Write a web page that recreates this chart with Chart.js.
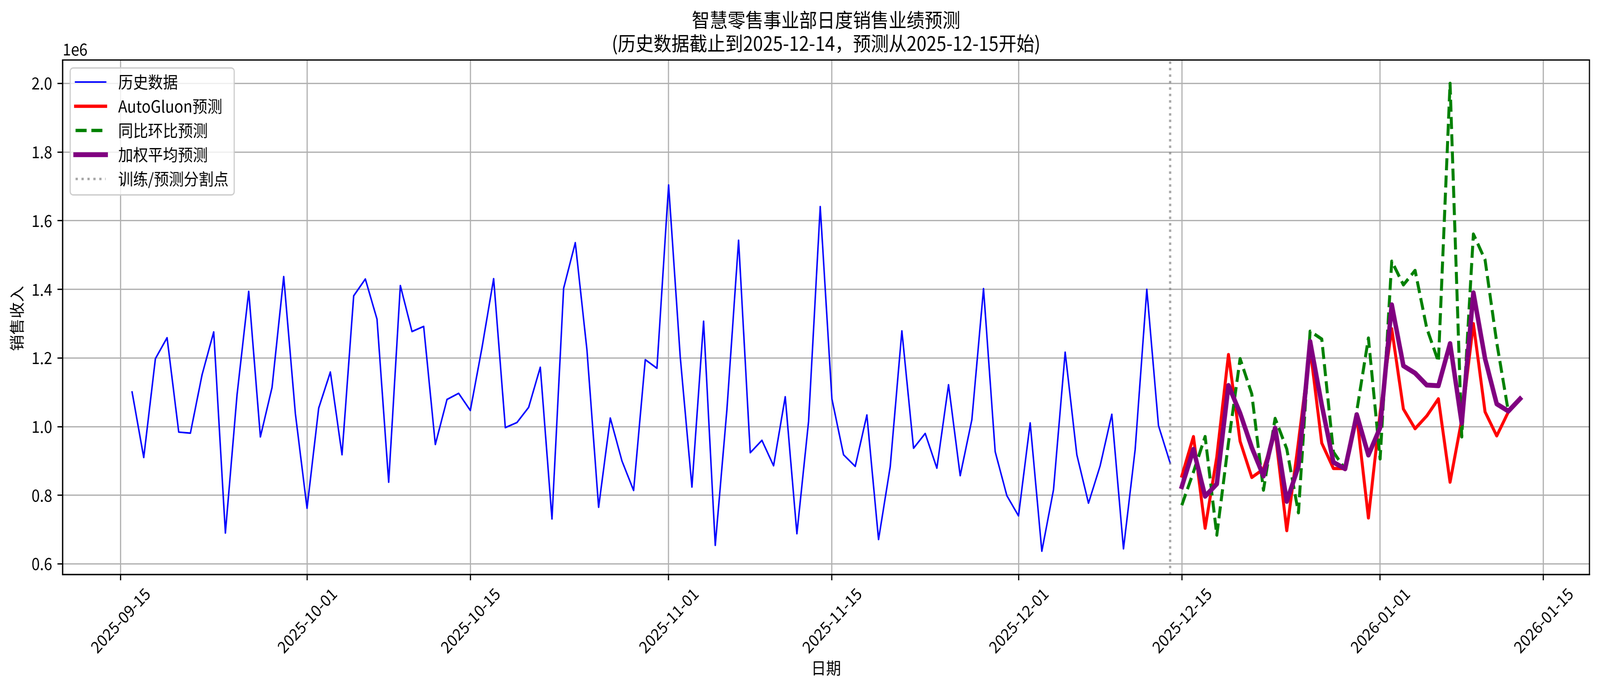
<!DOCTYPE html>
<html>
<head>
<meta charset="utf-8">
<script src="https://cdn.jsdelivr.net/npm/chart.js@4.4.0/dist/chart.umd.min.js"></script>
<style>
html,body{margin:0;padding:0;background:#fff;overflow:hidden;}
canvas{display:block;}
</style>
</head>
<body>
<canvas id="c" width="4468" height="1769"></canvas>
<script>
// ---------------- DATA ----------------
const titleLines = ['智慧零售事业部日度销售业绩预测', '(历史数据截止到2025-12-14，预测从2025-12-15开始)'];
const xLabel = '日期';
const yLabel = '销售收入';
const seriesNames = ['历史数据', 'AutoGluon预测', '同比环比预测', '加权平均预测', '训练/预测分割点'];

const historyStart = '2025-09-16';
const historyValues = [
  1101000, 910000, 1198000, 1259000, 984000, 981000, 1151000, 1276000, 690000, 1093000,
  1394000, 970000, 1114000, 1437000, 1038000, 762000, 1054000, 1159000, 918000, 1381000,
  1430000, 1313000, 838000, 1411000, 1277000, 1292000, 948000, 1079000, 1097000, 1047000,
  1230000, 1431000, 997000, 1012000, 1056000, 1173000, 731000, 1403000, 1536000, 1223000,
  765000, 1025000, 900000, 814000, 1195000, 1170000, 1704000, 1202000, 824000, 1307000,
  654000, 1050000, 1543000, 924000, 960000, 886000, 1087000, 688000, 1015000, 1641000,
  1081000, 918000, 884000, 1034000, 671000, 883000, 1279000, 937000, 980000, 879000,
  1122000, 857000, 1020000, 1402000, 927000, 799000, 740000, 1011000, 637000, 816000,
  1217000, 918000, 777000, 886000, 1036000, 644000, 933000, 1400000, 1003000, 894000
];

const forecastStart = '2025-12-15';
const autogluonValues = [
  856000, 971000, 704000, 912000, 1210000, 957000, 852000, 876000, 985000, 697000,
  955000, 1228000, 952000, 878000, 878000, 1030000, 734000, 1040000, 1285000, 1051000,
  994000, 1031000, 1081000, 838000, 1020000, 1300000, 1043000, 973000, 1043000, 1080000
];
const yoyMomValues = [
  771000, 868000, 971000, 684000, 953000, 1198000, 1095000, 815000, 1024000, 935000,
  749000, 1278000, 1255000, 926000, 876000, 1045000, 1258000, 906000, 1482000, 1413000,
  1455000, 1287000, 1189000, 2000000, 970000, 1561000, 1486000, 1245000, 1043000, 1080000
];
const weightedValues = [
  825000, 934000, 797000, 833000, 1120000, 1039000, 939000, 856000, 996000, 782000,
  884000, 1248000, 1063000, 896000, 877000, 1035000, 917000, 997000, 1355000, 1177000,
  1156000, 1121000, 1119000, 1242000, 1010000, 1390000, 1198000, 1066000, 1045000, 1081000
];

const splitDate = '2025-12-14';
const xTickDates = ['2025-09-15', '2025-10-01', '2025-10-15', '2025-11-01', '2025-11-15',
                    '2025-12-01', '2025-12-15', '2026-01-01', '2026-01-15'];
const yTickValues = [600000, 800000, 1000000, 1200000, 1400000, 1600000, 1800000, 2000000];
const yOffsetText = '1e6';

// ---------------- PAGE FIT (stretch the 4468x1769 drawing to the real viewport) ----------------
const W = 4468, H = 1769;
(function fit() {
  const vw = window.innerWidth || W, vh = window.innerHeight || H;
  const cv = document.getElementById('c');
  cv.style.width = vw + 'px';
  cv.style.height = vh + 'px';
})();

// ---------------- HELPERS ----------------
const FONT = "'Noto Sans CJK SC', 'Noto Sans', sans-serif";
const FS = 41.7;
const dayNum = s => Date.UTC(+s.slice(0, 4), +s.slice(5, 7) - 1, +s.slice(8, 10)) / 86400000;
const toPoints = (start, vals) => vals.map((v, i) => ({ x: dayNum(start) + i, y: v }));

const histPts = toPoints(historyStart, historyValues);
const agPts = toPoints(forecastStart, autogluonValues);
const yoyPts = toPoints(forecastStart, yoyMomValues);
const wPts = toPoints(forecastStart, weightedValues);

// matplotlib-style 5% margins
const allX = histPts.concat(agPts).map(p => p.x);
const allY = historyValues.concat(autogluonValues, yoyMomValues, weightedValues);
const xLo = Math.min(...allX), xHi = Math.max(...allX);
const yLo = Math.min(...allY), yHi = Math.max(...allY);
const xMin = xLo - 0.05 * (xHi - xLo), xMax = xHi + 0.05 * (xHi - xLo);
const yMin = yLo - 0.05 * (yHi - yLo), yMax = yHi + 0.05 * (yHi - yLo);

const COLORS = { hist: '#0000ff', ag: '#ff0000', yoy: '#008000', w: '#800080', split: 'rgba(128,128,128,0.7)' };
const LW = { hist: 4.17, ag: 8.33, yoy: 8.33, w: 12.5, split: 6.25 };
const DASH_YOY = [30.8, 13.3];
const DASH_SPLIT = [6.25, 10.3];

// ---------------- PLUGIN (matplotlib-like decorations) ----------------
const mplPlugin = {
  id: 'mpl',
  afterDraw(chart) {
    const ctx = chart.ctx, a = chart.chartArea;
    const xs = chart.scales.x;
    const cx = (a.left + a.right) / 2, cy = (a.top + a.bottom) / 2;
    ctx.save();
    // spines
    ctx.strokeStyle = '#000';
    ctx.lineWidth = 3.3;
    ctx.strokeRect(a.left, a.top, a.right - a.left, a.bottom - a.top);

    ctx.fillStyle = '#000';
    // x tick labels, rotated 45deg, centered on tick
    ctx.font = `${FS}px ${FONT}`;
    ctx.textAlign = 'center';
    ctx.textBaseline = 'middle';
    xTickDates.forEach(d => {
      const px = xs.getPixelForValue(dayNum(d));
      ctx.save();
      ctx.translate(px, a.bottom + 117);
      ctx.rotate(-Math.PI / 4);
      ctx.fillText(d, 0, 0);
      ctx.restore();
    });
    // x label
    ctx.fillText(xLabel, cx, a.bottom + 239);
    // y label
    ctx.save();
    ctx.translate(47.5, cy + 3);
    ctx.rotate(-Math.PI / 2);
    ctx.fillText(yLabel, 0, 0);
    ctx.restore();
    // offset text
    ctx.textAlign = 'left';
    ctx.textBaseline = 'alphabetic';
    ctx.fillText(yOffsetText, a.left, a.top - 12);
    // title
    ctx.font = `50px ${FONT}`;
    ctx.textAlign = 'center';
    ctx.textBaseline = 'middle';
    ctx.fillText(titleLines[0], cx, 50.5);
    ctx.fillText(titleLines[1], cx, 111);

    // legend
    const bx = 196, by = 174, bw = 458, bh = 325, r = 8.3;
    ctx.beginPath();
    ctx.moveTo(bx + r, by);
    ctx.lineTo(bx + bw - r, by); ctx.arcTo(bx + bw, by, bx + bw, by + r, r);
    ctx.lineTo(bx + bw, by + bh - r); ctx.arcTo(bx + bw, by + bh, bx + bw - r, by + bh, r);
    ctx.lineTo(bx + r, by + bh); ctx.arcTo(bx, by + bh, bx, by + bh - r, r);
    ctx.lineTo(bx, by + r); ctx.arcTo(bx, by, bx + r, by, r);
    ctx.closePath();
    ctx.fillStyle = 'rgba(255,255,255,0.8)';
    ctx.fill();
    ctx.strokeStyle = '#cccccc';
    ctx.lineWidth = 3.3;
    ctx.stroke();

    const items = [
      { c: COLORS.hist, w: LW.hist, d: [], cap: 'square' },
      { c: COLORS.ag, w: LW.ag, d: [], cap: 'square' },
      { c: COLORS.yoy, w: LW.yoy, d: DASH_YOY, cap: 'butt' },
      { c: COLORS.w, w: LW.w, d: [], cap: 'square' },
      { c: COLORS.split, w: LW.split, d: DASH_SPLIT, cap: 'butt' }
    ];
    ctx.font = `${FS}px ${FONT}`;
    ctx.textAlign = 'left';
    ctx.textBaseline = 'middle';
    items.forEach((it, i) => {
      const y = 210 + i * 62;
      ctx.save();
      ctx.strokeStyle = it.c;
      ctx.lineWidth = it.w;
      ctx.lineCap = it.cap;
      ctx.setLineDash(it.d);
      ctx.beginPath();
      ctx.moveTo(211, y);
      ctx.lineTo(295, y);
      ctx.stroke();
      ctx.restore();
      ctx.fillStyle = '#000';
      ctx.fillText(seriesNames[i], 330, y);
    });
    ctx.restore();
  }
};

// ---------------- CHART ----------------
Chart.defaults.font.family = FONT;
Chart.defaults.font.size = FS;
Chart.defaults.color = '#000';

new Chart(document.getElementById('c'), {
  type: 'line',
  data: {
    datasets: [
      { label: seriesNames[4], data: [{ x: dayNum(splitDate), y: yMin }, { x: dayNum(splitDate), y: yMax }],
        borderColor: COLORS.split, borderWidth: LW.split, borderDash: DASH_SPLIT, borderCapStyle: 'butt', order: 0 },
      { label: seriesNames[3], data: wPts, borderColor: COLORS.w, borderWidth: LW.w, borderCapStyle: 'square', order: 1 },
      { label: seriesNames[2], data: yoyPts, borderColor: COLORS.yoy, borderWidth: LW.yoy, borderDash: DASH_YOY, borderCapStyle: 'butt', order: 2 },
      { label: seriesNames[1], data: agPts, borderColor: COLORS.ag, borderWidth: LW.ag, borderCapStyle: 'square', order: 3 },
      { label: seriesNames[0], data: histPts, borderColor: COLORS.hist, borderWidth: LW.hist, borderCapStyle: 'square', order: 4 }
    ]
  },
  options: {
    responsive: false,
    animation: false,
    devicePixelRatio: 1,
    layout: { padding: { left: 0, top: 153.6, right: 29.5, bottom: 0 } },
    plugins: { legend: { display: false }, title: { display: false }, tooltip: { enabled: false } },
    elements: {
      point: { radius: 0, hoverRadius: 0 },
      line: { tension: 0, borderJoinStyle: 'round', fill: false }
    },
    scales: {
      x: {
        type: 'linear',
        min: xMin, max: xMax,
        afterBuildTicks: s => { s.ticks = xTickDates.map(d => ({ value: dayNum(d) })); },
        afterFit: s => { s.height = 298; },
        ticks: { display: false },
        grid: { color: '#b0b0b0', lineWidth: 3.3, drawTicks: true, tickLength: 14.6, tickColor: '#000', tickWidth: 3.3 },
        border: { display: true, color: '#000', width: 3.3 }
      },
      y: {
        type: 'linear',
        min: yMin, max: yMax,
        afterBuildTicks: s => { s.ticks = yTickValues.map(v => ({ value: v })); },
        afterFit: s => { s.width = 175; },
        ticks: {
          padding: 14.6,
          color: '#000',
          font: { size: FS, family: FONT },
          autoSkip: false,
          callback: v => (v / 1e6).toFixed(1)
        },
        grid: { color: '#b0b0b0', lineWidth: 3.3, drawTicks: true, tickLength: 14.6, tickColor: '#000', tickWidth: 3.3 },
        border: { display: true, color: '#000', width: 3.3 }
      }
    }
  },
  plugins: [mplPlugin]
});
</script>
</body>
</html>
